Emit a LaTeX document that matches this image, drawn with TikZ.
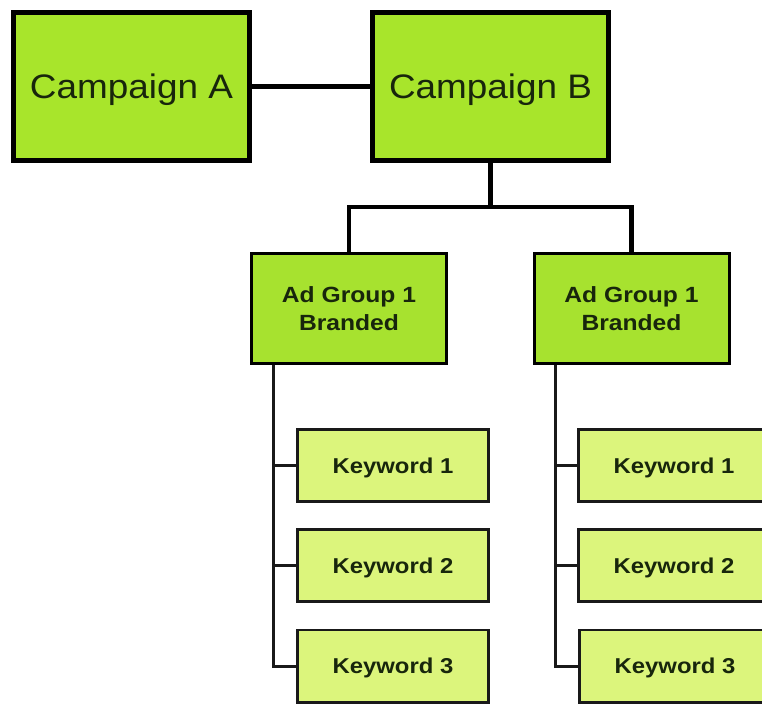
\documentclass[tikz,border=0pt]{standalone}
\usepackage{fontspec}
\setmainfont{Liberation Sans}
\usepackage{graphicx}

\definecolor{campfill}{HTML}{A8E52B}
\definecolor{groupfill}{HTML}{A7E22F}
\definecolor{kwfill}{HTML}{DCF57C}
\definecolor{inkdark}{HTML}{18260C}

% wide lettering used throughout
\newcommand{\widetext}[2]{\scalebox{#1}[1]{#2}}
% two-line group caption, last baseline placed below the node centre
\newcommand{\grouptext}[2]{\raisebox{-21.5pt}[0pt][0pt]{\widetext{1.12}{\begin{tabular}[b]{@{}c@{}}#1\\#2\end{tabular}}}}

\tikzset{
  campaign/.style={draw=black, fill=campfill, line width=5pt, outer sep=0pt,
    minimum width=236pt, minimum height=148pt, inner sep=0pt, text=inkdark,
    text height=24.3pt, text depth=0pt,
    font=\fontsize{34}{38}\selectfont},
  adgroup/.style={draw=black, fill=groupfill, line width=3pt, outer sep=0pt,
    minimum width=195pt, minimum height=110pt, inner sep=0pt, text=inkdark,
    font=\fontsize{22}{28}\selectfont\bfseries},
  keyword/.style={draw=black!90, fill=kwfill, line width=2.8pt, outer sep=0pt,
    minimum width=191.2pt, minimum height=72.2pt, inner sep=0pt, text=inkdark,
    text height=15.4pt, text depth=0pt,
    font=\fontsize{21.5}{26}\selectfont\bfseries},
  thickwire/.style={draw=black, line width=4.5pt},
  thinwire/.style={draw=black!90, line width=3pt}
}

\begin{document}
\begin{tikzpicture}[x=1pt, y=-1pt]
  \useasboundingbox (0,0) rectangle (762,704);

  % campaigns
  \node[campaign] (campA) at (131.5,86.5) {\widetext{1.085}{Campaign A}};
  \node[campaign] (campB) at (490.5,86.5) {\widetext{1.085}{Campaign B}};

  % ad groups
  \node[adgroup] (ag1) at (349,308.5) {\grouptext{Ad Group 1}{Branded}};
  \node[adgroup] (ag2) at (631.5,308.5) {\grouptext{Ad Group 1}{Branded}};

  % keywords, left column
  \node[keyword] (k11) at (393,465.5) {\widetext{1.11}{Keyword 1}};
  \node[keyword] (k12) at (393,565.5) {\widetext{1.11}{Keyword 2}};
  \node[keyword] (k13) at (393,666)   {\widetext{1.11}{Keyword 3}};

  % keywords, right column
  \node[keyword] (k21) at (674,465.5) {\widetext{1.11}{Keyword 1}};
  \node[keyword] (k22) at (674,565.5) {\widetext{1.11}{Keyword 2}};
  \node[keyword] (k23) at (675,666)   {\widetext{1.11}{Keyword 3}};

  % campaign links
  \draw[thickwire] (campA.east) -- (campB.west);
  \coordinate (bus) at (490.5,207);
  \draw[thickwire] (campB.south) -- (bus);
  \draw[thickwire, line join=miter] (ag1.north) |- (bus) -| (ag2.north);

  % keyword trunks
  \coordinate (trunkL) at (273,365);
  \coordinate (trunkR) at (555,365);
  \draw[thinwire] (trunkL) |- (k13.west);
  \draw[thinwire] (k11.west) -- (k11.west -| trunkL);
  \draw[thinwire] (k12.west) -- (k12.west -| trunkL);
  \draw[thinwire] (trunkR) |- (k23.west);
  \draw[thinwire] (k21.west) -- (k21.west -| trunkR);
  \draw[thinwire] (k22.west) -- (k22.west -| trunkR);
\end{tikzpicture}
\end{document}
